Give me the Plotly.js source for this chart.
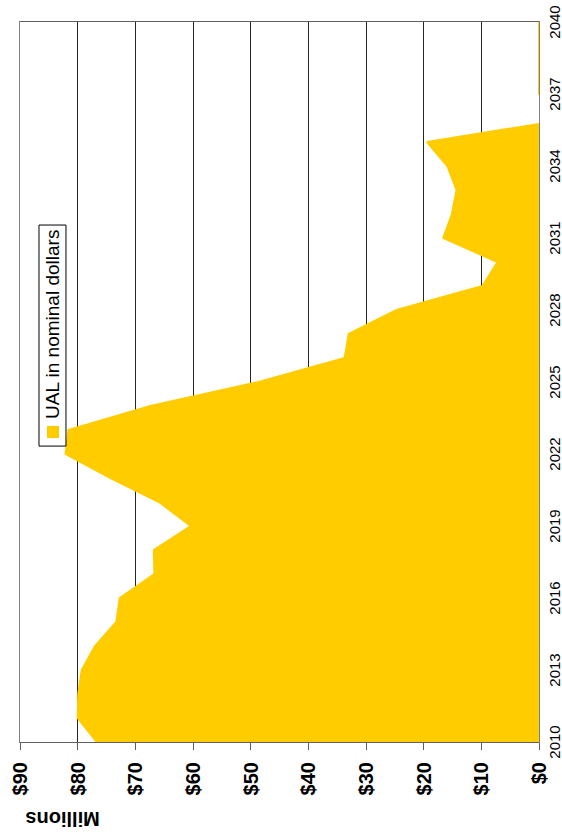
<!DOCTYPE html>
<html>
<head>
<meta charset="utf-8">
<script src="https://cdn.plot.ly/plotly-3.0.1.min.js"></script>
<style>
  html, body { margin: 0; padding: 0; width: 562px; height: 836px; overflow: hidden; background: #fff; }
  #chart { position: absolute; left: 0; top: 0; width: 836px; height: 562px;
           transform-origin: 0 0; transform: translate(0px, 836px) rotate(-90deg); }
</style>
</head>
<body>
<div id="chart"></div>
<script>
// Data
const years = [2010, 2011, 2012, 2013, 2014, 2015, 2016, 2017, 2018, 2019,
               2020, 2021, 2022, 2023, 2024, 2025, 2026, 2027, 2028, 2029,
               2030, 2031, 2032, 2033, 2034, 2035, 2036, 2037, 2038, 2039, 2040];
const ualNominal = [76.7, 80.0, 79.9, 79.3, 77.0, 73.3, 72.7, 66.7, 66.8, 60.4,
                    65.9, 74.3, 82.1, 81.6, 67.4, 48.6, 33.7, 33.0, 24.7, 9.8,
                    7.2, 16.6, 15.1, 14.3, 15.9, 19.4, -6.4, 0, 0, 0, 0];
const yearTicks = [2010, 2013, 2016, 2019, 2022, 2025, 2028, 2031, 2034, 2037, 2040];
const valueTicks = [0, 10, 20, 30, 40, 50, 60, 70, 80, 90];
const seriesName = 'UAL in nominal dollars';
const axisTitle = 'Millions';

const yellow = '#FFCC00';
const font = "'Liberation Sans', Arial, sans-serif";

const traces = [
  {
    x: years, y: ualNominal, type: 'scatter', mode: 'lines',
    name: seriesName,
    fill: 'tozeroy', fillcolor: yellow,
    line: { color: yellow, width: 2 },
    showlegend: false, hoverinfo: 'skip'
  }
];

// Legend drawn as a boxed key inside the plot (paper coordinates)
const legendBox = { x0: 0.411, x1: 0.718, y0: 0.9114, y1: 0.9634 };
const legendKey = { x0: 0.4222, x1: 0.4389, y0: 0.9249, y1: 0.948 };

const layout = {
  width: 836, height: 562,
  margin: { l: 94, r: 22, t: 20, b: 23, autoexpand: false },
  paper_bgcolor: '#fff', plot_bgcolor: '#fff',
  font: { family: font, color: '#000' },
  xaxis: {
    range: [2010, 2040],
    tickvals: yearTicks,
    ticktext: yearTicks.map(String),
    tickfont: { family: font, size: 15, color: '#000' },
    showgrid: false, zeroline: false,
    showline: true, linecolor: '#808080', linewidth: 1, mirror: true,
    ticks: '', ticklabelstandoff: 2
  },
  yaxis: {
    range: [0, 90],
    tickvals: valueTicks,
    ticktext: valueTicks.map(v => '$' + v),
    tickfont: { family: font, size: 20, color: '#000', weight: 'bold' },
    showgrid: true, gridcolor: '#262626', gridwidth: 1,
    zeroline: false,
    showline: true, linecolor: '#606060', linewidth: 1, mirror: true,
    ticks: 'outside', ticklen: 7, tickcolor: '#606060', tickwidth: 1,
    ticklabelstandoff: 8
  },
  showlegend: false,
  shapes: [
    { type: 'rect', xref: 'paper', yref: 'paper',
      x0: legendBox.x0, x1: legendBox.x1, y0: legendBox.y0, y1: legendBox.y1,
      fillcolor: '#fff', line: { color: '#000', width: 1 }, layer: 'above' },
    { type: 'rect', xref: 'paper', yref: 'paper',
      x0: legendKey.x0, x1: legendKey.x1, y0: legendKey.y0, y1: legendKey.y1,
      fillcolor: yellow, line: { width: 0 }, layer: 'above' }
  ],
  annotations: [
    {
      text: seriesName, xref: 'paper', yref: 'paper',
      x: 0.4455, y: 0.9374, xanchor: 'left', yanchor: 'middle',
      showarrow: false,
      font: { family: font, size: 19, color: '#000' }
    },
    {
      text: axisTitle, xref: 'paper', yref: 'paper',
      x: -0.108, y: 0.918, xanchor: 'center', yanchor: 'middle',
      textangle: -90, showarrow: false,
      font: { family: font, size: 20, color: '#000', weight: 'bold' }
    }
  ]
};

Plotly.newPlot('chart', traces, layout, { displayModeBar: false, staticPlot: true });
</script>
</body>
</html>
